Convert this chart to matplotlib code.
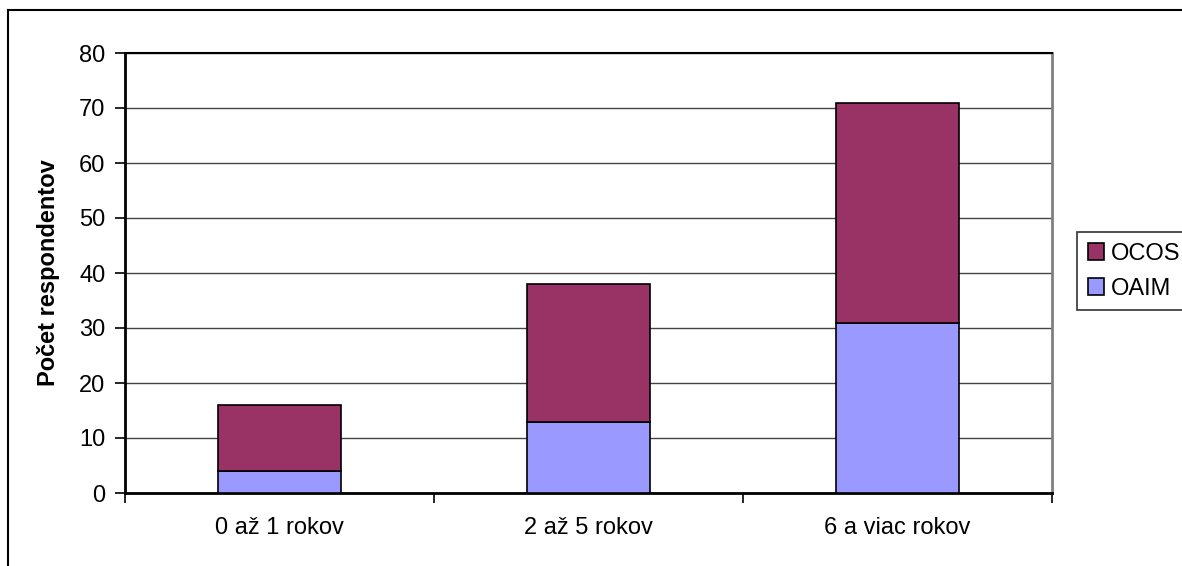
import matplotlib.pyplot as plt
from matplotlib.lines import Line2D
from matplotlib.patches import Patch

plt.rcParams['font.family'] = ['Liberation Sans', 'DejaVu Sans']

categories = ['0 až 1 rokov', '2 až 5 rokov', '6 a viac rokov']
oaim = [4, 13, 31]
ocos = [12, 25, 40]
yticks = [0, 10, 20, 30, 40, 50, 60, 70, 80]

c_ocos = '#993366'
c_oaim = '#9999FF'

W, H = 1182, 566
fig = plt.figure(figsize=(W / 100, H / 100), dpi=100)
ax = fig.add_axes([125 / W, (H - 493) / H, 927 / W, 440 / H])

x = range(len(categories))
ax.bar(x, oaim, width=0.4, color=c_oaim, edgecolor='black', linewidth=1.2, zorder=3)
ax.bar(x, ocos, width=0.4, bottom=oaim, color=c_ocos, edgecolor='black', linewidth=1.2, zorder=3)

ax.set_xlim(-0.5, 2.5)
ax.set_ylim(0, 80)
ax.set_yticks(yticks)
ax.set_xticks(list(x))
ax.set_xticklabels(categories)
ax.set_xticks([-0.5, 0.5, 1.5, 2.5], minor=True)
ax.tick_params(axis='x', which='major', length=0, pad=17, labelsize=17)
ax.tick_params(axis='x', which='minor', length=7, width=1.2, direction='out')
ax.tick_params(axis='y', length=7, width=1.2, pad=7, labelsize=17)

ax.yaxis.grid(True, color='#444444', linewidth=1.0, zorder=0)
ax.set_axisbelow(True)

for side in ['left', 'bottom']:
    ax.spines[side].set_color('black')
    ax.spines[side].set_linewidth(2)
ax.spines['right'].set_color('#808080')
ax.spines['right'].set_linewidth(2)
ax.spines['top'].set_color('black')
ax.spines['top'].set_linewidth(1.5)

ax.set_ylabel('Počet respondentov', fontsize=17, fontweight='bold', labelpad=14)

# legend, OCOS first like the stacked order top-down
handles = [Patch(facecolor=c_ocos, edgecolor='black', linewidth=1.2),
           Patch(facecolor=c_oaim, edgecolor='black', linewidth=1.2)]
leg = fig.legend(handles, ['OCOS', 'OAIM'], loc='upper left',
                 bbox_to_anchor=(1077 / W, 1 - 232 / H), frameon=True,
                 fancybox=False, fontsize=17, handlelength=0.7, handleheight=0.7,
                 handletextpad=0.3, labelspacing=0.55, borderpad=0.45, borderaxespad=0)
leg.get_frame().set_edgecolor('black')
leg.get_frame().set_linewidth(1.2)

# outer chart frame
fig.add_artist(Line2D([8 / W, 8 / W], [0, 1 - 10 / H], color='black', linewidth=1.5,
                      transform=fig.transFigure))
fig.add_artist(Line2D([8 / W, 1], [1 - 10 / H, 1 - 10 / H], color='black', linewidth=1.5,
                      transform=fig.transFigure))

fig.savefig('out.png', dpi=100)
